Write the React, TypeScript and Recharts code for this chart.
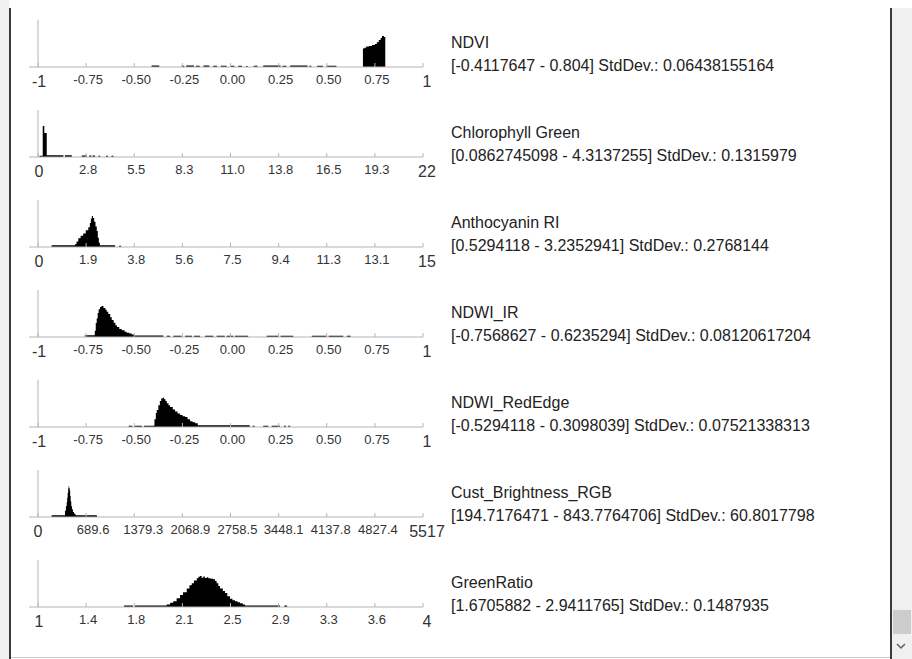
import React from 'react';
import { ComposedChart, Area, XAxis, YAxis, ReferenceLine } from 'recharts';

// ---------- tick values & labels ----------
const ndviTicks = [-1, -0.75, -0.5, -0.25, 0, 0.25, 0.5, 0.75, 1];
const ndviTickLabels = ['-1', '-0.75', '-0.50', '-0.25', '0.00', '0.25', '0.50', '0.75', '1'];
const chlTicks = [0, 2.75, 5.5, 8.25, 11, 13.75, 16.5, 19.25, 22];
const chlTickLabels = ['0', '2.8', '5.5', '8.3', '11.0', '13.8', '16.5', '19.3', '22'];
const anthoTicks = [0, 1.875, 3.75, 5.625, 7.5, 9.375, 11.25, 13.125, 15];
const anthoTickLabels = ['0', '1.9', '3.8', '5.6', '7.5', '9.4', '11.3', '13.1', '15'];
const custTicks = [0, 689.625, 1379.25, 2068.875, 2758.5, 3448.125, 4137.75, 4827.375, 5517];
const custTickLabels = ['0', '689.6', '1379.3', '2068.9', '2758.5', '3448.1', '4137.8', '4827.4', '5517'];
const greenTicks = [1, 1.375, 1.75, 2.125, 2.5, 2.875, 3.25, 3.625, 4];
const greenTickLabels = ['1', '1.4', '1.8', '2.1', '2.5', '2.9', '3.3', '3.6', '4'];

// ---------- histogram bins: [bin start, relative count] ----------
const ndviBins: [number, number][] = [
  [-0.41, 5], [-0.37, 0],
  [-0.254, 4], [-0.24, 0], [-0.23, 5], [-0.19, 0], [-0.18, 4], [-0.16, 0], [-0.14, 5], [-0.11, 0],
  [-0.09, 4], [-0.07, 0], [-0.05, 4], [-0.02, 0], [0.0, 4], [0.02, 0], [0.04, 4], [0.06, 0],
  [0.08, 3], [0.09, 0], [0.12, 4], [0.14, 0], [0.17, 5], [0.26, 0], [0.27, 4], [0.29, 0],
  [0.31, 5], [0.4, 0], [0.41, 4], [0.42, 0], [0.45, 4], [0.48, 0], [0.5, 4], [0.55, 0],
  [0.688, 60], [0.695, 62], [0.705, 66], [0.72, 68], [0.735, 71], [0.75, 74], [0.76, 80],
  [0.77, 87], [0.78, 94], [0.787, 100], [0.797, 97], [0.804, 0],
];
const chlBins: [number, number][] = [
  [0.086, 4], [0.27, 100], [0.36, 78], [0.5, 6], [1.45, 0], [1.54, 6], [1.93, 0],
  [2.5, 5], [2.8, 0], [2.93, 5], [3.05, 0], [3.12, 5], [3.26, 0], [3.45, 4], [3.55, 0],
  [3.89, 4], [4.0, 0], [4.2, 4], [4.314, 0],
];
const anthoBins: [number, number][] = [
  [0.529, 6], [1.44, 9], [1.5, 18], [1.57, 28], [1.66, 36], [1.76, 44], [1.86, 54], [1.96, 64],
  [2.02, 78], [2.06, 92], [2.1, 100], [2.14, 94], [2.19, 82], [2.24, 66], [2.29, 52], [2.33, 30],
  [2.37, 14], [2.41, 6], [3.0, 0], [3.16, 4], [3.235, 0],
];
const ndwiIrBins: [number, number][] = [
  [-0.757, 6], [-0.705, 20], [-0.7, 45], [-0.695, 60], [-0.69, 78], [-0.685, 90], [-0.678, 97],
  [-0.67, 100], [-0.66, 94], [-0.65, 88], [-0.643, 82], [-0.635, 74], [-0.625, 64], [-0.617, 55],
  [-0.607, 46], [-0.598, 38], [-0.59, 32], [-0.578, 26], [-0.565, 22], [-0.55, 17], [-0.539, 14],
  [-0.525, 11], [-0.513, 8], [-0.5, 5], [-0.349, 0],
  [-0.331, 4], [-0.314, 0], [-0.297, 4], [-0.254, 0], [-0.236, 4], [-0.2, 0], [-0.19, 4], [-0.158, 0],
  [-0.132, 4], [-0.089, 0], [-0.072, 4], [-0.03, 0], [-0.02, 4], [0.015, 0], [0.023, 4], [0.092, 0],
  [0.188, 4], [0.25, 0], [0.26, 4], [0.326, 0], [0.422, 4], [0.5, 0], [0.51, 4], [0.586, 0],
  [0.604, 4], [0.624, 0],
];
const ndwiRedEdgeBins: [number, number][] = [
  [-0.529, 4], [-0.51, 0], [-0.5, 4], [-0.46, 0], [-0.45, 4], [-0.4, 5], [-0.395, 25], [-0.388, 45],
  [-0.383, 55], [-0.375, 70], [-0.367, 84], [-0.36, 92], [-0.352, 95], [-0.345, 90], [-0.338, 84],
  [-0.331, 77], [-0.322, 70], [-0.314, 65], [-0.3, 57], [-0.288, 50], [-0.275, 44], [-0.262, 39],
  [-0.249, 35], [-0.236, 32], [-0.223, 25], [-0.21, 19], [-0.197, 15], [-0.184, 12], [-0.17, 6],
  [0.1, 0], [0.115, 4], [0.125, 0], [0.17, 4], [0.196, 0], [0.214, 4], [0.257, 0], [0.278, 4],
  [0.288, 0], [0.3, 4], [0.31, 0],
];
const custBins: [number, number][] = [
  [194.7, 6], [387, 20], [400, 35], [411, 48], [418, 62], [425, 78], [432, 92], [439, 100],
  [447, 94], [454, 86], [461, 68], [468, 50], [477, 35], [487, 25], [500, 16], [516, 11],
  [530, 8], [544, 6], [843.8, 0],
];
const greenBins: [number, number][] = [
  [1.671, 5], [1.74, 0], [1.755, 5], [2.003, 8], [2.03, 14], [2.054, 19], [2.08, 28], [2.107, 39],
  [2.13, 48], [2.159, 60], [2.18, 70], [2.198, 77], [2.215, 86], [2.237, 93], [2.25, 98],
  [2.262, 100], [2.275, 95], [2.288, 99], [2.3, 94], [2.315, 96], [2.327, 93], [2.345, 91],
  [2.366, 90], [2.38, 84], [2.392, 77], [2.405, 68], [2.418, 60], [2.44, 52], [2.457, 45],
  [2.475, 35], [2.496, 27], [2.515, 22], [2.535, 19], [2.555, 15], [2.574, 12], [2.595, 8],
  [2.613, 5], [2.886, 0], [2.92, 5], [2.941, 0],
];

// ---------- titles ----------
const titles = ['NDVI', 'Chlorophyll Green', 'Anthocyanin RI', 'NDWI_IR', 'NDWI_RedEdge', 'Cust_Brightness_RGB', 'GreenRatio'];
const subtitles = [
  '[-0.4117647 - 0.804] StdDev.: 0.06438155164',
  '[0.0862745098 - 4.3137255] StdDev.: 0.1315979',
  '[0.5294118 - 3.2352941] StdDev.: 0.2768144',
  '[-0.7568627 - 0.6235294] StdDev.: 0.08120617204',
  '[-0.5294118 - 0.3098039] StdDev.: 0.07521338313',
  '[194.7176471 - 843.7764706] StdDev.: 60.8017798',
  '[1.6705882 - 2.9411765] StdDev.: 0.1487935',
];

// per-panel horizontal nudges of the inner tick labels (layout only)
const custLabelShift = [0, 7, 9, 8, 7, 5, 4, 3, 4];

const panels = [
  { bins: ndviBins, ticks: ndviTicks, labels: ndviTickLabels, shift: null as number[] | null },
  { bins: chlBins, ticks: chlTicks, labels: chlTickLabels, shift: null },
  { bins: anthoBins, ticks: anthoTicks, labels: anthoTickLabels, shift: null },
  { bins: ndwiIrBins, ticks: ndviTicks, labels: ndviTickLabels, shift: null },
  { bins: ndwiRedEdgeBins, ticks: ndviTicks, labels: ndviTickLabels, shift: null },
  { bins: custBins, ticks: custTicks, labels: custTickLabels, shift: custLabelShift },
  { bins: greenBins, ticks: greenTicks, labels: greenTickLabels, shift: null },
];

const FONT = '"Liberation Sans", Arial, sans-serif';
const AXIS = '#b4b4b4';

const makeTick = (ticks: number[], labels: string[], shift: number[] | null) => (props: any) => {
  const { x, y, payload } = props;
  const i = ticks.findIndex((t) => Math.abs(t - payload.value) < 1e-6);
  const last = i === ticks.length - 1;
  const end = i === 0 || last;
  const dx = shift ? shift[i] : last ? 4 : end ? 1 : 2;
  return (
    <g>
      <line x1={x} x2={x} y1={y} y2={y - 4} stroke={AXIS} strokeWidth={1} />
      <text
        x={x + dx}
        y={y + (end ? 20 : 17)}
        textAnchor="middle"
        fontSize={end ? 16 : 13}
        fontFamily={FONT}
        fill="#333"
      >
        {labels[i]}
      </text>
    </g>
  );
};

function Histogram({ bins, ticks, labels, shift }: { bins: [number, number][]; ticks: number[]; labels: string[]; shift: number[] | null }) {
  const data = bins.map(([x, count]) => ({ x, count }));
  const min = ticks[0];
  const max = ticks[ticks.length - 1];
  return (
    <ComposedChart width={460} height={90} data={data} margin={{ top: 20, right: 37, bottom: 0, left: 29 }}>
      <XAxis
        dataKey="x"
        type="number"
        domain={[min, max]}
        allowDataOverflow
        ticks={ticks}
        interval={0}
        padding={{ left: 9, right: 0 }}
        height={23}
        tickSize={0}
        tickMargin={0}
        tickLine={false}
        axisLine={{ stroke: AXIS, strokeWidth: 1 }}
        tick={makeTick(ticks, labels, shift)}
      />
      <YAxis hide domain={[0, 152]} allowDataOverflow />
      <ReferenceLine x={min} stroke={AXIS} strokeWidth={1} />
      <Area
        type="stepAfter"
        dataKey="count"
        stroke="none"
        fill="#000"
        fillOpacity={1}
        isAnimationActive={false}
        dot={false}
        activeDot={false}
      />
    </ComposedChart>
  );
}

export default function App() {
  return (
    <div style={{ position: 'absolute', left: 0, top: 0, width: 912, height: 659, background: '#fff', overflow: 'hidden' }}>
      {/* frame */}
      <div style={{ position: 'absolute', left: 0, top: 0, width: 9, height: 659, background: '#f0f0f0' }} />
      <div style={{ position: 'absolute', left: 9, top: 8, width: 2, height: 651, background: '#3a3a3a' }} />
      <div style={{ position: 'absolute', left: 890, top: 8, width: 2, height: 651, background: '#3a3a3a' }} />
      <div style={{ position: 'absolute', left: 892, top: 8, width: 20, height: 651, background: '#f0f0f0' }} />
      <div style={{ position: 'absolute', left: 893, top: 610, width: 18, height: 24, background: '#cdcdcd' }} />
      <div style={{ position: 'absolute', left: 11, top: 657, width: 879, height: 1, background: '#c8c8c8' }} />
      <svg style={{ position: 'absolute', left: 892, top: 636, width: 20, height: 20 }}>
        <polyline points="5,8 9,12 13,8" fill="none" stroke="#606060" strokeWidth={1.5} />
      </svg>

      {panels.map((p, i) => (
        <div key={i} style={{ position: 'absolute', left: 0, top: i * 90, width: 460, height: 90 }}>
          <Histogram bins={p.bins} ticks={p.ticks} labels={p.labels} shift={p.shift} />
        </div>
      ))}

      {titles.map((t, i) => (
        <div
          key={t}
          style={{
            position: 'absolute',
            left: 451,
            top: i * 90 + 31,
            fontFamily: FONT,
            fontSize: 16,
            lineHeight: '23px',
            color: '#222',
            whiteSpace: 'nowrap',
          }}
        >
          <div>{t}</div>
          <div>{subtitles[i]}</div>
        </div>
      ))}
    </div>
  );
}
